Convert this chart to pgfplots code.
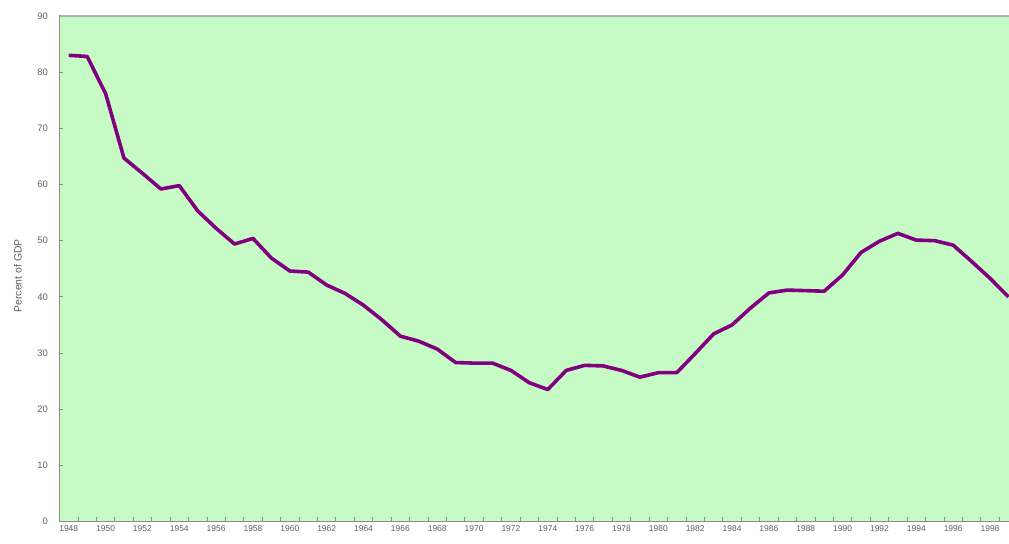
\documentclass[border=0pt]{standalone}
\usepackage{pgfplots}
\pgfplotsset{compat=1.18}
\usepackage{fontspec}
\setmainfont{Liberation Sans}
\definecolor{bg}{RGB}{199,251,197}
\definecolor{ln}{RGB}{128,0,128}
\definecolor{lab}{RGB}{95,95,95}
\definecolor{ax}{RGB}{140,140,140}
\definecolor{topax}{RGB}{175,175,175}
\begin{document}
\begin{tikzpicture}
\useasboundingbox (-59.5bp,-22.5bp) rectangle (949.5bp,521.5bp);
\begin{axis}[
  at={(0,0)}, anchor=south west,
  scale only axis, width=949.5bp, height=505.5bp,
  xmin=1947.5, xmax=1999.03, ymin=0, ymax=90,
  axis y line*=left,
  axis background/.style={fill=bg},
  axis line style={ax, line width=1.2bp},
  tick align=inside,
  tick style={ax, line width=0.8bp},
  major tick length=4bp,
  xtick={1948.5,1949.5,1950.5,1951.5,1952.5,1953.5,1954.5,1955.5,1956.5,1957.5,1958.5,1959.5,1960.5,1961.5,1962.5,1963.5,1964.5,1965.5,1966.5,1967.5,1968.5,1969.5,1970.5,1971.5,1972.5,1973.5,1974.5,1975.5,1976.5,1977.5,1978.5,1979.5,1980.5,1981.5,1982.5,1983.5,1984.5,1985.5,1986.5,1987.5,1988.5,1989.5,1990.5,1991.5,1992.5,1993.5,1994.5,1995.5,1996.5,1997.5,1998.5},
  xticklabels={},
  xtick pos=bottom,
  extra x ticks={1948,1950,1952,1954,1956,1958,1960,1962,1964,1966,1968,1970,1972,1974,1976,1978,1980,1982,1984,1986,1988,1990,1992,1994,1996,1998},
  extra x tick labels={1948,1950,1952,1954,1956,1958,1960,1962,1964,1966,1968,1970,1972,1974,1976,1978,1980,1982,1984,1986,1988,1990,1992,1994,1996,1998},
  extra x tick style={major tick length=0pt},
  ytick={0,10,...,90},
  ytick pos=left,
  /pgf/number format/assume math mode=true,
  /pgf/number format/1000 sep={},
  xticklabel style={font=\fontsize{8.5}{10}\selectfont, text=lab, yshift=-1bp},
  yticklabel style={font=\fontsize{9.5}{10}\selectfont, text=lab, xshift=-8bp},
  ylabel={Percent of GDP},
  every axis y label/.style={at={(axis description cs:0,0.486)}, xshift=-41.5bp, rotate=90, anchor=center, font=\fontsize{10.5}{12}\selectfont, text=lab},
]
\addplot[ln, line width=3.6bp, line join=round, mark=none] coordinates {
(1948,83.0) (1949,82.8) (1950,76.2) (1951,64.7) (1952,62.0) (1953,59.2)
(1954,59.8) (1955,55.3) (1956,52.2) (1957,49.4) (1958,50.4) (1959,46.9)
(1960,44.6) (1961,44.4) (1962,42.1) (1963,40.6) (1964,38.5) (1965,35.9)
(1966,33.0) (1967,32.1) (1968,30.7) (1969,28.3) (1970,28.2) (1971,28.2)
(1972,26.9) (1973,24.7) (1974,23.5) (1975,26.9) (1976,27.8) (1977,27.7)
(1978,26.9) (1979,25.7) (1980,26.5) (1981,26.5) (1982,29.9) (1983,33.4)
(1984,35.0) (1985,38.0) (1986,40.7) (1987,41.2) (1988,41.1) (1989,41.0)
(1990,43.9) (1991,47.9) (1992,49.9) (1993,51.3) (1994,50.1) (1995,50.0)
(1996,49.2) (1997,46.3) (1998,43.3) (1999,40.0)
};
\end{axis}
\draw[topax, line width=2bp] (0,505.5bp) -- (949.5bp,505.5bp);
\end{tikzpicture}
\end{document}
